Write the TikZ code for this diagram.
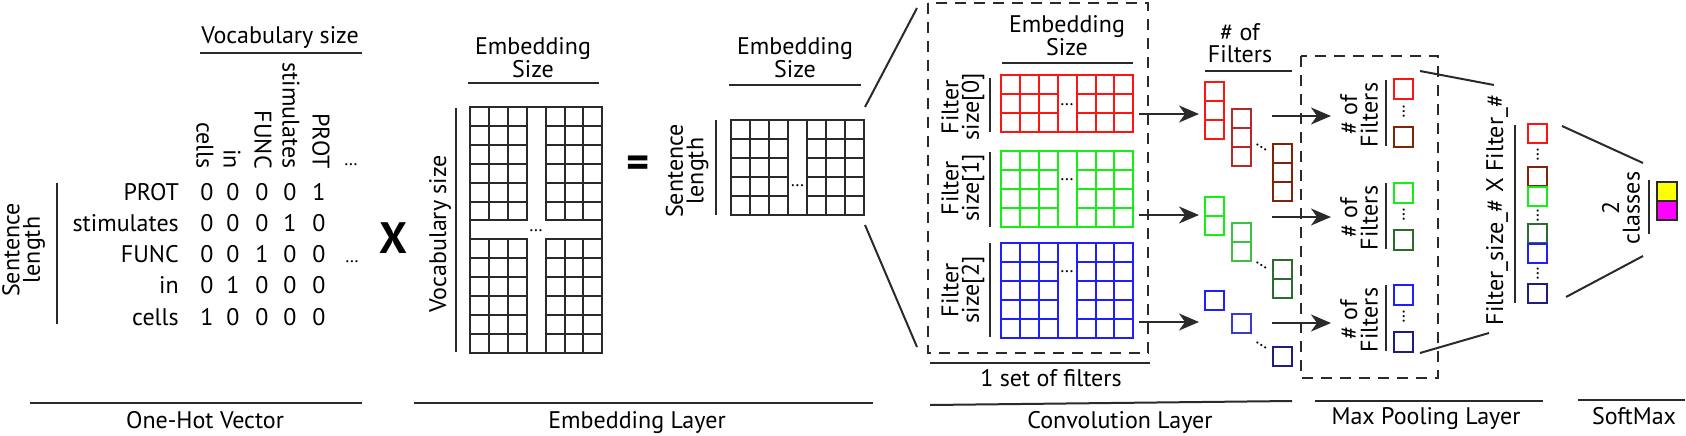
\documentclass[tikz,border=0pt]{standalone}
\usepackage{fontspec}
\setmainfont{PT Sans}
\usetikzlibrary{arrows.meta}
\definecolor{redA}{HTML}{FF1414}
\definecolor{redB}{HTML}{B32A2A}
\definecolor{redC}{HTML}{7F2408}
\definecolor{greenA}{HTML}{14F014}
\definecolor{greenB}{HTML}{3CC23C}
\definecolor{greenC}{HTML}{2E6B2E}
\definecolor{blueA}{HTML}{1E1EFF}
\definecolor{blueB}{HTML}{3A3AD2}
\definecolor{blueC}{HTML}{1E1E82}
\definecolor{ink}{HTML}{2A2A2A}
\definecolor{yel}{HTML}{FFFF00}
\definecolor{mag}{HTML}{FF00FF}
\newcommand\cellblock[7]{%
  \foreach \ci in {1,...,#3}{%
    \foreach \cj in {1,...,#4}{%
      \draw[#7] ({#1+(\ci-1)*#5},{#2+(\cj-1)*#6}) rectangle ++(#5,#6);
    }}}
\tikzset{
  lbl/.style={font=\fontsize{24}{20.5}\selectfont, inner sep=0pt, align=center},
  lblw/.style={font=\fontsize{24}{22}\selectfont, inner sep=0pt, align=center},
  sep/.style={draw=ink, line width=2pt},
  gk/.style={draw=ink, line width=2pt},
  arr/.style={draw=ink, line width=2pt, -{Stealth[length=20pt,width=17pt,inset=6pt]}},
  dashbox/.style={draw=ink, line width=2pt, dash pattern=on 11pt off 8pt},
  dotsf/.style={font=\fontsize{18}{18}\selectfont, inner sep=0pt},
  big/.style={font=\fontsize{44}{44}\selectfont\bfseries, inner sep=0pt},
  sq/.style={line width=2pt},
}
\begin{document}
\begin{tikzpicture}[x=1pt,y=-1pt]
\useasboundingbox (0,0) rectangle (1686,436);

% ===== One-hot vector =====
\node[lbl,anchor=base] (vocT) at (280,44) {Vocabulary size};
\draw[sep] (200,53) -- (362,53);
\foreach \t/\x [count=\k] in {cells/205,in/232,FUNC/263,stimulates/291,PROT/321}
  \node[lbl,rotate=-90,anchor=east] (col\k) at (\x,169) {\t};
\node[dotsf,anchor=base] (cdots) at (351,165) {…};
\foreach \t/\y [count=\k] in {PROT/200,stimulates/231.25,FUNC/262.5,in/293.75,cells/325}
  \node[lbl,anchor=base east] (row\k) at (179,\y) {\t};
\foreach \y/\a/\b/\c/\d/\e [count=\k] in {200/0/0/0/0/1,231.25/0/0/0/1/0,262.5/0/0/1/0/0,293.75/0/1/0/0/0,325/1/0/0/0/0}{
  \node[lbl,anchor=base] (m\k a) at (207,\y) {\a};
  \node[lbl,anchor=base] (m\k b) at (233,\y) {\b};
  \node[lbl,anchor=base] (m\k c) at (262,\y) {\c};
  \node[lbl,anchor=base] (m\k d) at (290,\y) {\d};
  \node[lbl,anchor=base] (m\k e) at (319,\y) {\e};
}
\node[dotsf,anchor=base] (rdots) at (352,262) {…};
\draw[sep] (57,183) -- (57,324);
\node[lbl,rotate=90] (sentA) at (23.5,250) {Sentence\\length};
\node[big] (times) at (393,238) {X};
\draw[sep] (30,403) -- (362,403);
\node[lbl,anchor=base] (labA) at (205,428) {One-Hot Vector};

% ===== Embedding layer =====
\node[lbl] (embA) at (533,58) {Embedding\\Size};
\draw[sep] (468,83) -- (599,83);
\cellblock{470}{107}{3}{6}{18.9}{18.9}{gk}
\cellblock{545.6}{107}{3}{6}{18.9}{18.9}{gk}
\cellblock{470}{239.3}{3}{6}{18.9}{18.9}{gk}
\cellblock{545.6}{239.3}{3}{6}{18.9}{18.9}{gk}
\draw[gk] (470,107) rectangle (602.3,352.7);
\node[dotsf,anchor=base] (edots) at (536,231.5) {…};
\draw[sep] (456,108) -- (456,352);
\node[lbl,rotate=90] (vocL) at (440,234) {Vocabulary size};
\node[big] (eq) at (638,167) {=};

\node[lbl] (embB) at (795,58) {Embedding\\Size};
\draw[sep] (729,85) -- (861,85);
\cellblock{731}{120}{3}{5}{19}{19}{gk}
\cellblock{807}{120}{3}{5}{19}{19}{gk}
\draw[gk] (731,120) rectangle (864,215);
\node[dotsf,anchor=base] (sdots) at (797.5,186.5) {…};
\draw[sep] (716,120) -- (716,215);
\node[lbl,rotate=90] (sentB) at (687,171) {Sentence\\length};
\draw[sep] (414,403) -- (873,403);
\node[lbl,anchor=base] (labB) at (637,428) {Embedding Layer};

% zoom lines
\coordinate (zA1) at (865,107); \coordinate (zA2) at (917,8);
\coordinate (zB1) at (865,225); \coordinate (zB2) at (917,347);
\draw[sep] (zA1) -- (zA2);
\draw[sep] (zB1) -- (zB2);

% ===== Convolution layer =====
\draw[dashbox] (928,3) rectangle (1148,353);
\node[lbl] (embC) at (1067,36) {Embedding\\Size};
\draw[sep] (1002,63) -- (1133,63);
% red
\cellblock{1001}{75}{3}{3}{18.9}{19}{draw=redA,sq}
\cellblock{1076.6}{75}{3}{3}{18.9}{19}{draw=redA,sq}
\draw[draw=redA,sq] (1001,75) rectangle (1133.3,132);
\node[dotsf,anchor=base] (fdR) at (1067,105.5) {…};
% green
\cellblock{1001}{151}{3}{4}{18.9}{19}{draw=greenA,sq}
\cellblock{1076.6}{151}{3}{4}{18.9}{19}{draw=greenA,sq}
\draw[draw=greenA,sq] (1001,151) rectangle (1133.3,227);
\node[dotsf,anchor=base] (fdG) at (1067,180.5) {…};
% blue
\cellblock{1001}{243}{3}{5}{18.9}{18.9}{draw=blueA,sq}
\cellblock{1076.6}{243}{3}{5}{18.9}{18.9}{draw=blueA,sq}
\draw[draw=blueA,sq] (1001,243) rectangle (1133.3,337.5);
\node[dotsf,anchor=base] (fdB) at (1067,272.5) {…};
% size labels
\draw[sep] (990,78) -- (990,132);
\draw[sep] (990,152) -- (990,227);
\draw[sep] (990,243) -- (990,337);
\node[lbl,rotate=90] (fs0) at (963,107) {Filter\\size[0]};
\node[lbl,rotate=90] (fs1) at (963,188) {Filter\\size[1]};
\node[lbl,rotate=90] (fs2) at (963,290) {Filter\\size[2]};
% arrows to feature maps
\coordinate (aR1) at (1139,114); \coordinate (aR2) at (1199,114);
\coordinate (aG1) at (1139,215); \coordinate (aG2) at (1199,215);
\coordinate (aB1) at (1139,322); \coordinate (aB2) at (1199,322);
\draw[arr] (aR1) -- (aR2);
\draw[arr] (aG1) -- (aG2);
\draw[arr] (aB1) -- (aB2);
% feature maps
\node[lblw] (nfA) at (1240,43) {\# of\\Filters};
\draw[sep] (1205,71) -- (1292,71);
\cellblock{1205}{82}{1}{3}{19}{19}{draw=redA,sq}
\cellblock{1231.5}{109}{1}{3}{19}{19}{draw=redB,sq}
\cellblock{1273}{144}{1}{3}{19}{19}{draw=redC,sq}
\node[dotsf,rotate=-32,anchor=base] (ddR) at (1261,148) {…};
\cellblock{1205}{197}{1}{2}{19}{19}{draw=greenA,sq}
\cellblock{1231.5}{223}{1}{2}{19}{19}{draw=greenB,sq}
\cellblock{1273}{260}{1}{2}{19}{19}{draw=greenC,sq}
\node[dotsf,rotate=-32,anchor=base] (ddG) at (1261,266) {…};
\cellblock{1205}{291}{1}{1}{19}{19}{draw=blueA,sq}
\cellblock{1231.5}{314}{1}{1}{19}{19}{draw=blueB,sq}
\cellblock{1273}{347}{1}{1}{19}{19}{draw=blueC,sq}
\node[dotsf,rotate=-32,anchor=base] (ddB) at (1261,346) {…};
\draw[sep] (930,363) -- (1150,363);
\node[lbl,anchor=base] (setf) at (1051,386) {1 set of filters};
\draw[sep] (930,405) -- (1292,401);
\node[lbl,anchor=base] (labC) at (1120,428) {Convolution Layer};

% ===== Max pooling =====
\draw[dashbox] (1301,56) rectangle (1438,378);
\coordinate (bR1) at (1272,116); \coordinate (bR2) at (1331,116);
\coordinate (bG1) at (1272,217); \coordinate (bG2) at (1331,217);
\coordinate (bB1) at (1272,323); \coordinate (bB2) at (1331,323);
\draw[arr] (bR1) -- (bR2);
\draw[arr] (bG1) -- (bG2);
\draw[arr] (bB1) -- (bB2);
\node[lbl,rotate=90] (nfR) at (1359,115) {\# of\\Filters};
\node[lbl,rotate=90] (nfG) at (1359,218) {\# of\\Filters};
\node[lbl,rotate=90] (nfB) at (1359,320) {\# of\\Filters};
\draw[sep] (1386,80) -- (1386,146);
\draw[sep] (1386,183) -- (1386,249);
\draw[sep] (1386,285) -- (1386,351);
\draw[draw=redA,sq] (1394,79) rectangle ++(19,19.5);
\draw[draw=redC,sq] (1394,127) rectangle ++(19,19.5);
\node[dotsf,rotate=90,anchor=base] (vdR) at (1404.5,112) {…};
\draw[draw=greenA,sq] (1394,183) rectangle ++(19,19.5);
\draw[draw=greenC,sq] (1394,230) rectangle ++(19,19.5);
\node[dotsf,rotate=90,anchor=base] (vdG) at (1404.5,215) {…};
\draw[draw=blueA,sq] (1394,285) rectangle ++(19,19.5);
\draw[draw=blueC,sq] (1394,332) rectangle ++(19,19.5);
\node[dotsf,rotate=90,anchor=base] (vdB) at (1404.5,317) {…};
\coordinate (pA1) at (1420,71); \coordinate (pA2) at (1494,85);
\coordinate (pB1) at (1420,353); \coordinate (pB2) at (1489,333);
\draw[sep] (pA1) -- (pA2);
\draw[sep] (pB1) -- (pB2);
\node[lbl,rotate=90] (cat) at (1497,210) {Filter\_size\_\# X Filter\_\#};
\draw[sep] (1515,125) -- (1515,303);
\draw[draw=redA,sq] (1528,124) rectangle ++(19,19);
\node[dotsf,rotate=90,anchor=base] (cdR) at (1538.5,155) {…};
\draw[draw=redC,sq] (1528,167) rectangle ++(19,19);
\draw[draw=greenA,sq] (1528,187) rectangle ++(19,19);
\node[dotsf,rotate=90,anchor=base] (cdG) at (1538.5,215.5) {…};
\draw[draw=greenC,sq] (1528,224) rectangle ++(19,19);
\draw[draw=blueA,sq] (1528,244) rectangle ++(19,19);
\node[dotsf,rotate=90,anchor=base] (cdB) at (1538.5,273.5) {…};
\draw[draw=blueC,sq] (1528,284) rectangle ++(19,19);
\draw[sep] (1315,401) -- (1543,401);
\node[lbl,anchor=base] (labD) at (1426,424) {Max Pooling Layer};

% ===== SoftMax =====
\coordinate (sA1) at (1562,126); \coordinate (sA2) at (1643,163);
\coordinate (sB1) at (1566,297); \coordinate (sB2) at (1643,256);
\draw[sep] (sA1) -- (sA2);
\draw[sep] (sB1) -- (sB2);
\node[lbl,rotate=90] (cls) at (1621,208) {2\\classes};
\draw[sep] (1649,180) -- (1649,234);
\draw[fill=yel,draw=ink,line width=2.5pt] (1657,182) rectangle (1677,201);
\draw[fill=mag,draw=ink,line width=2.5pt] (1657,201) rectangle (1677,220);
\draw[sep] (1578,400) -- (1685,400);
\node[lbl,anchor=base] (labE) at (1634,424) {SoftMax};
\end{tikzpicture}
\end{document}
